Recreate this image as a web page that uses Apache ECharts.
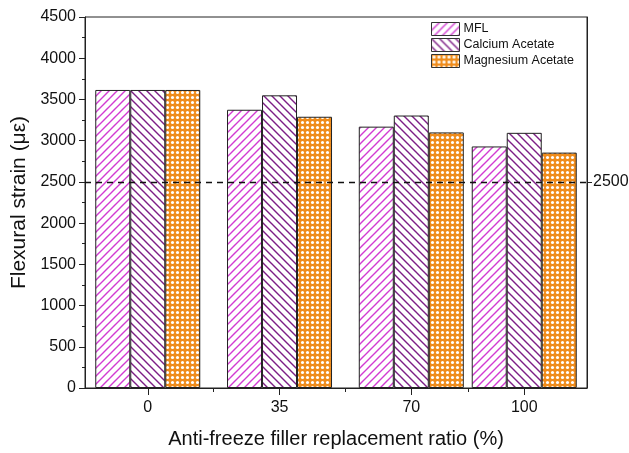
<!DOCTYPE html>
<html>
<head>
<meta charset="utf-8">
<script src="https://cdn.jsdelivr.net/npm/echarts@6/dist/echarts.min.js"></script>
<style>
  html, body { margin: 0; padding: 0; background: #fff; }
  #chart { width: 629px; height: 453px; }
</style>
</head>
<body>
<div id="chart"></div>
<script>
// Replacement ratios (%) on the x axis
const ratios = [0, 35, 70, 100];
const ratioTickLabels = [0, 35, 70, 100];
const ratioMinorTicks = [17.5, 52.5, 85];

// Flexural strain (micro-strain) per filler type
const seriesNames = ['MFL', 'Calcium Acetate', 'Magnesium Acetate'];
const mflStrain = [3615, 3375, 3170, 2930];
const calciumStrain = [3615, 3550, 3305, 3095];
const magnesiumStrain = [3615, 3290, 3100, 2855];

// Reference strain level
const referenceStrain = 2500;

const FONT = '"Liberation Sans", Arial, sans-serif';

// Diagonal hatch tile: dir > 0 draws '/', otherwise '\'
function hatchTile(color, dir) {
  const s = 8;
  const c = document.createElement('canvas');
  c.width = s; c.height = s;
  const g = c.getContext('2d');
  g.fillStyle = '#ffffff';
  g.fillRect(0, 0, s, s);
  g.strokeStyle = color;
  g.lineWidth = 1.4;
  g.beginPath();
  for (let k = -1; k <= 1; k++) {
    if (dir > 0) {
      g.moveTo(k * s - 1, s + 1);
      g.lineTo(k * s + s + 1, -1);
    } else {
      g.moveTo(k * s - 1, -1);
      g.lineTo(k * s + s + 1, s + 1);
    }
  }
  g.stroke();
  return c;
}

// Orange tile with white dots
function dotTile(color) {
  const s = 5;
  const c = document.createElement('canvas');
  c.width = s; c.height = s;
  const g = c.getContext('2d');
  g.fillStyle = color;
  g.fillRect(0, 0, s, s);
  g.fillStyle = '#ffffff';
  g.beginPath();
  g.arc(s / 2, s / 2, 1.55, 0, Math.PI * 2);
  g.fill();
  return c;
}

const fills = [
  { image: hatchTile('#d23bd2', 1), repeat: 'repeat' },
  { image: hatchTile('#7d1f86', -1), repeat: 'repeat' },
  { image: dotTile('#ef8c1c'), repeat: 'repeat' }
];
const values = [mflStrain, calciumStrain, magnesiumStrain];

const barSeries = seriesNames.map((name, i) => ({
  name: name,
  type: 'bar',
  xAxisIndex: 0,
  yAxisIndex: 0,
  barWidth: 35,
  barGap: '0%',
  itemStyle: {
    color: fills[i],
    borderColor: '#222',
    borderWidth: 1
  },
  emphasis: { disabled: true },
  data: ratios.map((r, j) => [r, values[i][j]])
}));

const plainNumber = v => String(v);

const chart = echarts.init(document.getElementById('chart'), null, { renderer: 'canvas' });

chart.setOption({
  animation: false,
  backgroundColor: '#ffffff',
  textStyle: { fontFamily: FONT },
  grid: {
    left: 85, right: 42, top: 17, bottom: 65,
    outerBoundsMode: 'none',
    containLabel: false,
    show: true, borderColor: '#222', borderWidth: 1, backgroundColor: 'transparent'
  },
  legend: {
    data: seriesNames,
    orient: 'vertical',
    left: 431, top: 22,
    icon: 'rect',
    itemWidth: 28, itemHeight: 13, itemGap: 2,
    padding: 0,
    itemStyle: { borderWidth: 1, borderColor: '#333' },
    textStyle: { fontFamily: FONT, fontSize: 12.5, color: '#111', padding: [0, 0, 0, -1] }
  },
  xAxis: [
    {
      type: 'value',
      position: 'bottom',
      min: -16.67, max: 116.67,
      name: 'Anti-freeze filler replacement ratio (%)',
      nameLocation: 'middle',
      nameGap: 41,
      nameTextStyle: { fontFamily: FONT, fontSize: 20, color: '#111' },
      splitLine: { show: false },
      axisLine: { show: true, onZero: false, lineStyle: { color: '#222', width: 1 } },
      axisTick: { show: true, customValues: ratioTickLabels, length: 7, lineStyle: { color: '#222' } },
      axisLabel: { customValues: ratioTickLabels, formatter: plainNumber, fontSize: 16, color: '#111', margin: 12, fontFamily: FONT }
    },
    {
      type: 'value',
      position: 'bottom',
      min: -16.67, max: 116.67,
      splitLine: { show: false },
      axisLine: { show: false, onZero: false },
      axisTick: { show: true, customValues: ratioMinorTicks, length: 4, lineStyle: { color: '#222' } },
      axisLabel: { show: false }
    }
  ],
  yAxis: [
    {
      type: 'value',
      position: 'left',
      min: 0, max: 4500, interval: 500,
      name: 'Flexural strain (\u03bc\u03b5)',
      nameLocation: 'middle',
      nameGap: 55,
      nameTextStyle: { fontFamily: FONT, fontSize: 21, color: '#111' },
      splitLine: { show: false },
      axisLine: { show: true, onZero: false, lineStyle: { color: '#222', width: 1 } },
      axisTick: { show: true, length: 6, lineStyle: { color: '#222' } },
      minorTick: { show: true, splitNumber: 2, length: 3, lineStyle: { color: '#222' } },
      axisLabel: { formatter: plainNumber, fontSize: 16, color: '#111', margin: 9, fontFamily: FONT }
    },
    {
      type: 'value',
      position: 'right',
      min: 0, max: 4500,
      splitLine: { show: false },
      axisLine: { show: true, onZero: false, lineStyle: { color: '#222', width: 1 } },
      axisTick: { show: true, customValues: [referenceStrain], length: 5, lineStyle: { color: '#222' } },
      axisLabel: { customValues: [referenceStrain], formatter: plainNumber, fontSize: 16, color: '#111', margin: 6, fontFamily: FONT }
    }
  ],
  series: barSeries.concat([{
    name: 'reference',
    type: 'line',
    xAxisIndex: 0,
    yAxisIndex: 0,
    data: [],
    z: 10,
    silent: true,
    markLine: {
      silent: true,
      symbol: ['none', 'none'],
      label: { show: false },
      lineStyle: { color: '#111', type: [6, 5], width: 1.3 },
      data: [{ yAxis: referenceStrain }]
    }
  }])
});
</script>
</body>
</html>
